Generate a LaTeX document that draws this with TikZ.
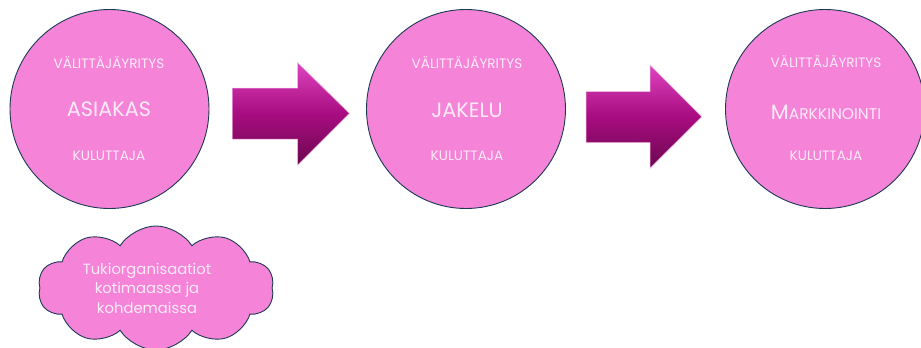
\documentclass[tikz,border=0pt]{standalone}
\usepackage{fontspec}
\setmainfont{Poppins}
\usetikzlibrary{shapes.symbols}
\definecolor{circfill}{HTML}{F584D8}
\definecolor{circline}{HTML}{1C3A55}
\definecolor{txtcol}{HTML}{FFEAF8}
\definecolor{arrtop}{HTML}{DD44BF}
\definecolor{arrmid}{HTML}{A80C80}
\definecolor{arrbot}{HTML}{6C0850}
\tikzset{
  circ/.style={draw=circline, line width=0.9pt, fill=circfill, circle, minimum size=199pt, inner sep=0pt},
  smalllbl/.style={text=txtcol, font=\fontsize{13.6}{16}\selectfont, inner sep=0pt},
  biglbl/.style={text=txtcol, font=\fontsize{20.8}{24}\selectfont, inner sep=0pt},
  blockarrow/.style={top color=arrtop, bottom color=arrbot, middle color=arrmid, draw=arrtop!40, line width=0.5pt},
  cloudbox/.style={cloud, cloud puffs=10, cloud puff arc=115, aspect=1.9, draw=circline, line width=0.9pt, fill=circfill, minimum width=236pt, minimum height=124pt, inner sep=0pt},
  cloudlbl/.style={text=txtcol, font=\fontsize{14.8}{19.5}\selectfont, align=center, inner sep=0pt}
}
\begin{document}
\begin{tikzpicture}[x=1pt,y=-1pt]
\useasboundingbox (0,0) rectangle (921,348);
% circles
\node[circ] (c1) at (109.5,109) {};
\node[circ] (c2) at (466,109) {};
\node[circ] (c3) at (825,109) {};
% labels
\node[smalllbl] (c1a) at (109,63) {VÄLITTÄJÄYRITYS};
\node[biglbl]   (c1b) at (109,109) {ASIAKAS};
\node[smalllbl] (c1c) at (109,156) {KULUTTAJA};
\node[smalllbl] (c2a) at (467,63) {VÄLITTÄJÄYRITYS};
\node[biglbl]   (c2b) at (467,110) {JAKELU};
\node[smalllbl] (c2c) at (467,156) {KULUTTAJA};
\node[smalllbl] (c3a) at (826,62) {VÄLITTÄJÄYRITYS};
\node[text=txtcol, inner sep=0pt] (c3b) at (826,112) {\fontsize{20.8}{24}\selectfont M\fontsize{15.5}{24}\selectfont ARKKINOINTI};
\node[smalllbl] (c3c) at (826,156) {KULUTTAJA};
% block arrows
\shade[blockarrow] (232.7,88) -- (297.7,88) -- (297.7,62.7) -- (349.3,113.3) -- (297.7,165) -- (297.7,139) -- (232.7,139) -- cycle;
\shade[blockarrow] (586,91.7) -- (650,91.7) -- (650,65) -- (701.7,116.7) -- (650,168.3) -- (650,142.7) -- (586,142.7) -- cycle;
% cloud
\node[cloudbox] (cl) at (156,288) {};
\node[cloudlbl] (cltxt) at (147,288) {Tukiorganisaatiot\\kotimaassa ja\\kohdemaissa};
\end{tikzpicture}
\end{document}
